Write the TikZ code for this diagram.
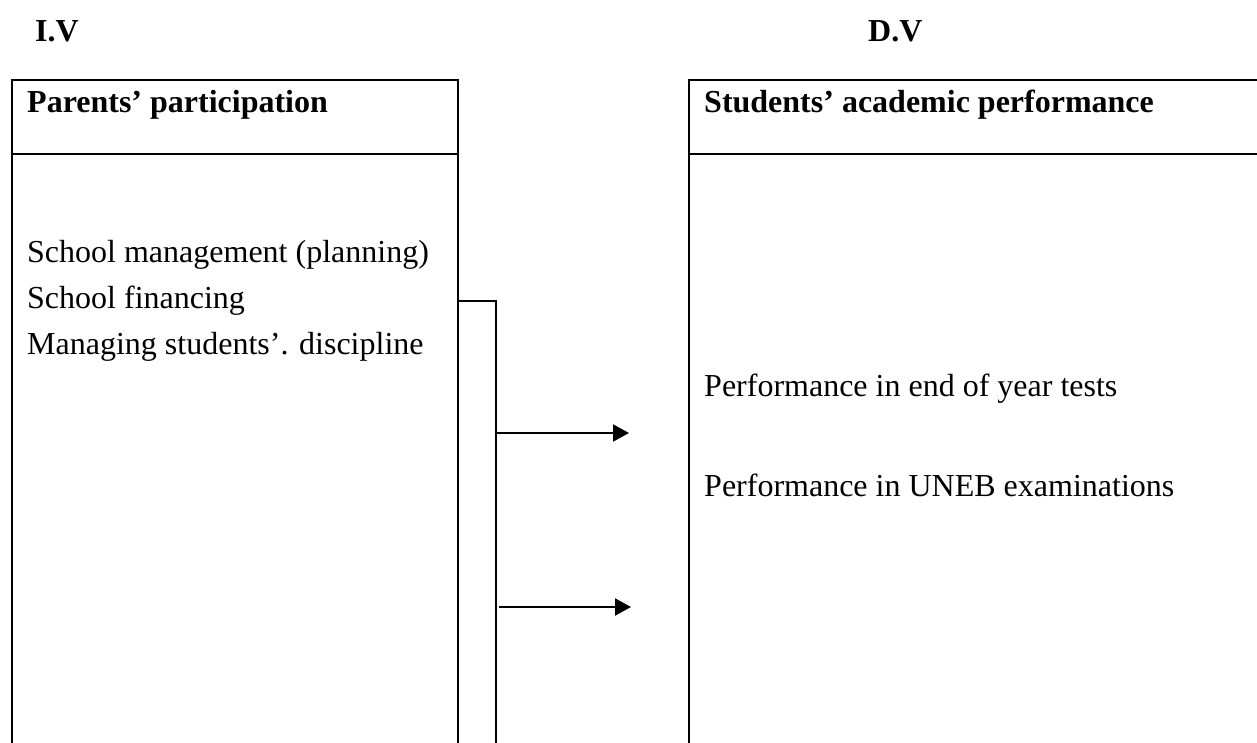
\documentclass[tikz,border=0pt]{standalone}
\usepackage{fontspec}
\setmainfont{Liberation Serif}
\usetikzlibrary{arrows.meta}
\tikzset{
  frame/.style={draw=black, line width=2pt},
  txt/.style={anchor=base west, inner sep=0pt, font=\fontsize{32}{36}\selectfont},
  head/.style={txt, font=\fontsize{32}{36}\selectfont\bfseries},
  conn/.style={draw=black, line width=2pt},
  arr/.style={conn, -{Triangle[length=16pt,width=17pt]}}
}
\begin{document}
\begin{tikzpicture}[x=1pt,y=-1pt]
\clip (0,0) rectangle (1257,743);
\fill[white] (0,0) rectangle (1257,743);
% boxes
\draw[frame] (12,80) rectangle (458,760);
\draw[frame] (12,154) -- (458,154);
\draw[frame] (689,80) rectangle (1290,760);
\draw[frame] (689,154) -- (1290,154);
% headings
\node[head] (iv) at (35,42) {I.V};
\node[head] (dv) at (868,42) {D.V};
\node[head] (lh) at (27,113) {Parents’ participation};
\node[head] (rh) at (704,113) {Students’ academic performance};
% items
\node[txt] (a1) at (27,262) {School management (planning)};
\node[txt] (a2) at (27,308) {School financing};
\node[txt] (a3) at (27,354) {Managing students’. discipline};
\node[txt] (b1) at (704,396) {Performance in end of year tests};
\node[txt] (b2) at (704,496) {Performance in UNEB examinations};
% bracket and arrows
\coordinate (bs) at (458,301);
\coordinate (bc) at (496,301);
\coordinate (be) at (496,760);
\draw[conn] (bs) -- (bc) -- (be);
\coordinate (s1) at (496,433);
\coordinate (e1) at (629,433);
\coordinate (s2) at (499,607);
\coordinate (e2) at (631,607);
\draw[arr] (s1) -- (e1);
\draw[arr] (s2) -- (e2);
\end{tikzpicture}
\end{document}
